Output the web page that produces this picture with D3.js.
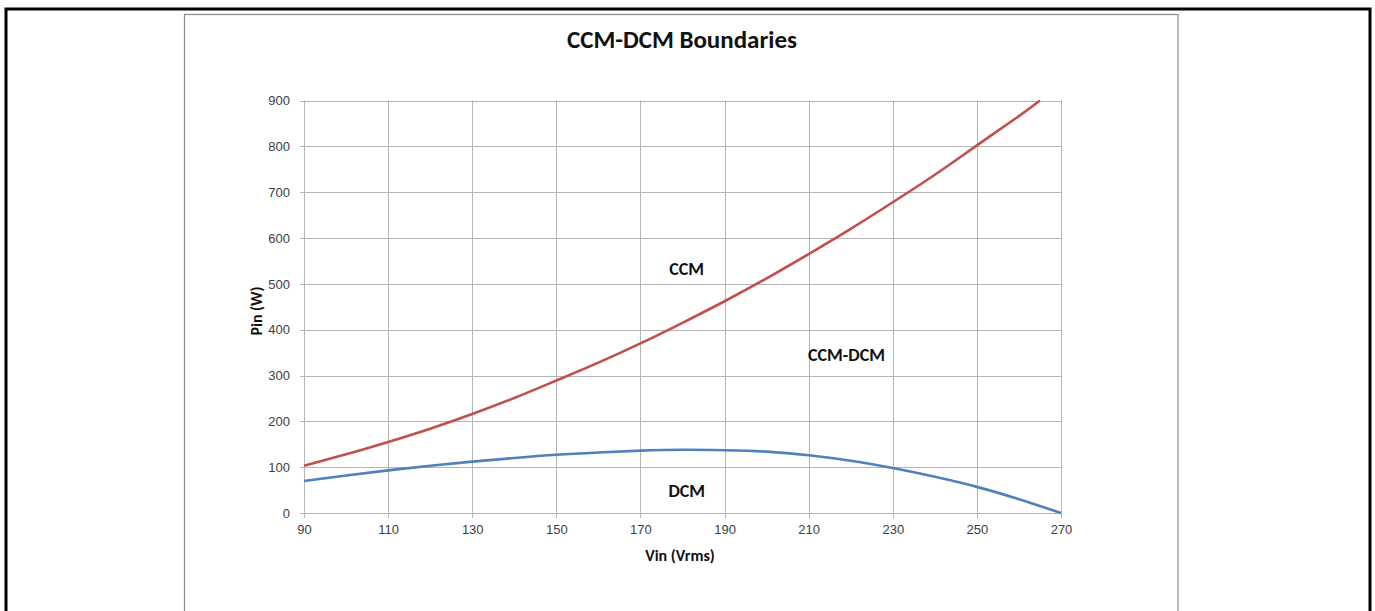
<!DOCTYPE html>
<html>
<head>
<meta charset="utf-8">
<script src="https://cdn.jsdelivr.net/npm/d3@7"></script>
<style>
  body { margin: 0; background: #fff; }
  svg { display: block; font-family: Carlito, Calibri, Lato, "Open Sans", sans-serif; }
  .tick text { fill: #404040; font-size: 13px; }
  .grid line { stroke: #b5b5b5; stroke-width: 1; }
</style>
</head>
<body>
<svg class="chart"></svg>
<script>
// Tamaño de la ventana
var W = 1375, H = 611;

// Área del gráfico (px)
var plot = {left: 304, right: 1061, top: 100.5, bottom: 513};

// Datos
var vin = [90, 100, 110, 120, 130, 140, 150, 160, 170, 180, 190, 200, 210, 220, 230, 240, 250, 260, 265, 270];
var ccmBoundary = [103, 128, 155, 184, 216, 251, 289, 328, 370, 415, 462, 512, 565, 620, 678, 738, 802, 866, 900, null];
var dcmBoundary = [70, 82, 93, 103, 112, 120, 127, 132, 136, 138, 137, 134, 126, 114, 98, 79, 57, 30, null, 0];

// Ticks
var xTicks = [90, 110, 130, 150, 170, 190, 210, 230, 250, 270];
var yTicks = [0, 100, 200, 300, 400, 500, 600, 700, 800, 900];

// Etiquetas de región (en coordenadas de datos)
var regionNames = ["CCM", "CCM-DCM", "DCM"];
var regionVin = [181, 219, 181];
var regionPin = [534, 345, 48];

var svg = d3.select(".chart").attr("width", W).attr("height", H);

// Marco negro exterior
svg.append("rect")
    .attr("x", 6).attr("y", 9)
    .attr("width", 1364).attr("height", 700)
    .attr("fill", "none").attr("stroke", "#000").attr("stroke-width", 3);

// Marco gris del gráfico
svg.append("rect")
    .attr("x", 184.5).attr("y", 14.5)
    .attr("width", 993.5).attr("height", 700)
    .attr("fill", "#fff").attr("stroke", "#8c8c8c").attr("stroke-width", 1.2);

var x = d3.scaleLinear().domain([90, 270]).range([plot.left, plot.right]);
var y = d3.scaleLinear().domain([0, 900]).range([plot.bottom, plot.top]);

// Rejilla
var grid = svg.append("g").attr("class", "grid");
grid.selectAll("line.v").data(xTicks).enter().append("line")
    .attr("class", "v")
    .attr("x1", function(d) { return Math.round(x(d)) + 0.5; })
    .attr("x2", function(d) { return Math.round(x(d)) + 0.5; })
    .attr("y1", plot.top).attr("y2", plot.bottom + 5);
grid.selectAll("line.h").data(yTicks).enter().append("line")
    .attr("class", "h")
    .attr("x1", plot.left - 4).attr("x2", plot.right)
    .attr("y1", function(d) { return Math.round(y(d)) + 0.5; })
    .attr("y2", function(d) { return Math.round(y(d)) + 0.5; });

// Ejes
var yAxis = d3.axisLeft(y).tickValues(yTicks).tickSize(0).tickPadding(14);
svg.append("g")
    .attr("transform", "translate(" + plot.left + ",0)")
    .call(yAxis)
    .call(function(g) { g.select(".domain").remove(); });

var xAxis = d3.axisBottom(x).tickValues(xTicks).tickSize(0).tickPadding(12);
svg.append("g")
    .attr("transform", "translate(0," + plot.bottom + ")")
    .call(xAxis)
    .call(function(g) { g.select(".domain").remove(); });

// Curvas
var line = d3.line()
    .x(function(d) { return x(d[0]); })
    .y(function(d) { return y(d[1]); })
    .curve(d3.curveNatural);

svg.append("path")
    .datum(vin.map(function(v, i) { return [v, dcmBoundary[i]]; }).filter(function(d) { return d[1] != null; }))
    .attr("d", line)
    .attr("fill", "none").attr("stroke", "#4F81BD").attr("stroke-width", 2.6);

svg.append("path")
    .datum(vin.map(function(v, i) { return [v, ccmBoundary[i]]; }).filter(function(d) { return d[1] != null; }))
    .attr("d", line)
    .attr("fill", "none").attr("stroke", "#C0504D").attr("stroke-width", 2.6);

// Etiquetas de región
svg.selectAll("text.region").data(regionNames).enter().append("text")
    .attr("class", "region")
    .attr("x", function(d, i) { return x(regionVin[i]); })
    .attr("y", function(d, i) { return y(regionPin[i]); })
    .attr("dy", "0.35em")
    .attr("text-anchor", "middle")
    .style("font-weight", "bold").style("font-size", "18px").style("fill", "#111")
    .text(function(d) { return d; });

// Títulos
svg.append("text")
    .attr("x", 682).attr("y", 48)
    .attr("text-anchor", "middle")
    .style("font-weight", "bold").style("font-size", "25px").style("fill", "#111")
    .text("CCM-DCM Boundaries");

svg.append("text")
    .attr("x", 680).attr("y", 561)
    .attr("text-anchor", "middle")
    .style("font-weight", "bold").style("font-size", "16px").style("fill", "#111")
    .text("Vin (Vrms)");

svg.append("text")
    .attr("transform", "translate(262,311) rotate(-90)")
    .attr("text-anchor", "middle")
    .style("font-weight", "bold").style("font-size", "16px").style("fill", "#111")
    .text("Pin (W)");
</script>
</body>
</html>
